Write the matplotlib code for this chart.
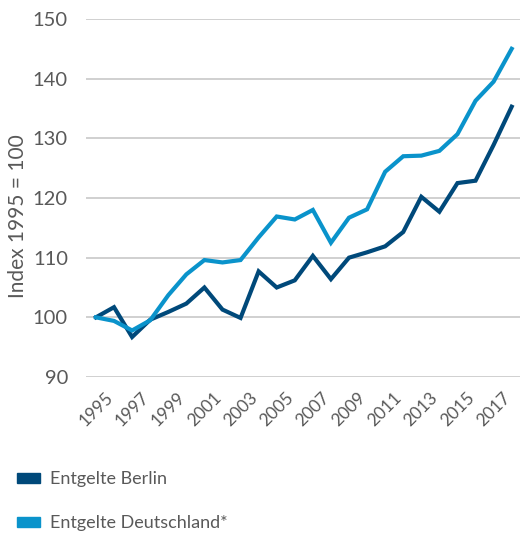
import matplotlib
matplotlib.use("Agg")
import matplotlib.pyplot as plt
from matplotlib.patches import Patch

years = list(range(1995, 2019))
berlin = [100.0, 101.7, 96.7, 99.6, 100.9, 102.3, 105.0, 101.3, 99.9, 107.7,
          105.0, 106.2, 110.3, 106.4, 110.0, 110.9, 111.9, 114.3, 120.2, 117.7,
          122.5, 122.9, 128.9, 135.3]
deutschland = [100.0, 99.4, 97.8, 99.5, 103.7, 107.2, 109.6, 109.2, 109.6, 113.4,
               116.9, 116.4, 118.0, 112.5, 116.7, 118.1, 124.4, 127.0, 127.1, 127.9,
               130.7, 136.3, 139.5, 145.0]
labels = ["Entgelte Berlin", "Entgelte Deutschland*"]
yticks = [90, 100, 110, 120, 130, 140, 150]

dark = "#00497a"
light = "#0a93cb"
grey = "#595959"

plt.rcParams['font.family'] = ['Lato', 'DejaVu Sans']

fig = plt.figure(figsize=(5.2, 5.33), dpi=100)
ax = fig.add_axes([86/520, 1-377/533, 1-86/520, (377-19)/533])

ax.plot(years, berlin, color=dark, lw=3.0, solid_joinstyle='miter')
ax.plot(years, deutschland, color=light, lw=3.0, solid_joinstyle='miter')

ax.set_ylim(90, 150)
ax.set_xlim(1994.45, 2018.46)
ax.set_yticks(yticks)
ax.set_xticks(years[::2])
ax.set_xticklabels([str(y) for y in years[::2]], rotation=45, ha='center',
                   fontsize=12.5, color=grey)
ax.tick_params(axis='y', labelsize=14.5, labelcolor=grey, length=0, pad=13)
ax.tick_params(axis='x', length=0, pad=9)
ax.grid(axis='y', color='#c8c8c8', lw=1.2)
ax.set_axisbelow(True)
for s in ax.spines.values():
    s.set_visible(False)

fig.text(18.5/520, 1-216/533, "Index 1995 = 100", rotation=90, ha='center',
         va='center', fontsize=15, color=grey)

handles = [Patch(color=dark), Patch(color=light)]
fig.legend(handles, labels, loc='upper left', bbox_to_anchor=(0.022, 1-466/533),
           frameon=False, fontsize=13, labelcolor=grey, handlelength=1.3,
           handleheight=0.45, handletextpad=0.55, labelspacing=1.55,
           borderaxespad=0, borderpad=0.3)

fig.savefig("out.png", dpi=100)
